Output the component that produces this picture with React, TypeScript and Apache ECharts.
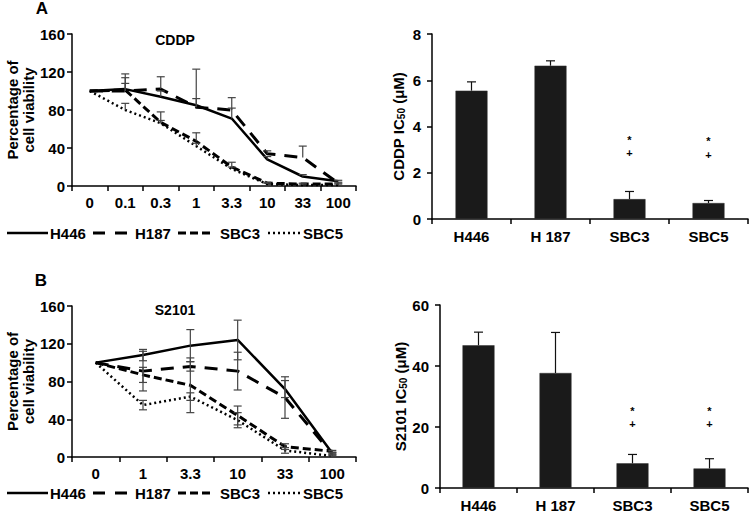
import React, { useEffect, useRef } from "react";
import * as echarts from "echarts";

// ---------- Data ----------
const concA = ["0", "0.1", "0.3", "1", "3.3", "10", "33", "100"];
const aH446 = [100, 102, 94, 85, 71, 28, 10, 5];
const aH187 = [100, 100, 102, 83, 80, 34, 30, 3];
const aSBC3 = [100, 101, 67, 47, 20, 3, 2, 2];
const aSBC5 = [100, 80, 66, 42, 18, 2, 1, 1];
const aH446Err = [0, 6, 6, 38, 22, 3, 2, 1];
const aH187Err = [0, 18, 13, 9, 2, 3, 12, 1];
const aSBC3Err = [0, 13, 11, 9, 5, 1, 1, 1];
const aSBC5Err = [0, 7, 3, 3, 2, 1, 1, 1];

const concB = ["0", "1", "3.3", "10", "33", "100"];
const bH446 = [100, 108, 118, 124, 72, 4];
const bH187 = [100, 91, 96, 91, 63, 3];
const bSBC3 = [100, 87, 76, 44, 11, 6];
const bSBC5 = [100, 55, 64, 39, 7, 1];
const bH446Err = [0, 6, 17, 21, 9, 1];
const bH187Err = [0, 21, 5, 20, 22, 1];
const bSBC3Err = [0, 8, 29, 10, 3, 1];
const bSBC5Err = [0, 5, 4, 8, 3, 1];

const cellLines = ["H446", "H 187", "SBC3", "SBC5"];
const cddpIC50 = [5.55, 6.63, 0.86, 0.69];
const cddpIC50Err = [0.38, 0.21, 0.33, 0.11];
const s2101IC50 = [46.8, 37.7, 8.1, 6.4];
const s2101IC50Err = [4.3, 13.3, 2.9, 3.2];

const cddpStar = [null, null, 3.42, 3.38];
const cddpPlus = [null, null, 2.85, 2.78];
const s2101Star = [null, null, 25.3, 25.3];
const s2101Plus = [null, null, 21.0, 21.0];

const seriesNames = ["H446", "H187", "SBC3", "SBC5"];

// ---------- Styles ----------
const FONT = "'Liberation Sans', Arial, sans-serif";
const dashes: any[] = ["solid", [13, 9], [8, 4], [2, 3]];
const legendDashes: any[] = [null, [12, 10], [8, 4], [2, 3]];
const widths = [2.5, 3, 3, 2.5];
// legend layout: [lineStart, lineEnd, textStart]
const legendSlots = [
  [7, 48, 50],
  [93, 127, 135],
  [178, 212, 220],
  [268, 300, 303],
];

function errRenderer(twoSided: boolean, cap: number, color: string) {
  return (params: any, api: any) => {
    const i = api.value(0);
    const v = api.value(1);
    const e = api.value(2);
    if (!e) return null;
    const top = api.coord([i, v + e]);
    const bot = api.coord([i, twoSided ? v - e : v]);
    const st = { stroke: color, lineWidth: 1.2 };
    const children: any[] = [
      { type: "line", shape: { x1: top[0], y1: top[1], x2: bot[0], y2: bot[1] }, style: st },
      { type: "line", shape: { x1: top[0] - cap / 2, y1: top[1], x2: top[0] + cap / 2, y2: top[1] }, style: st },
    ];
    if (twoSided) {
      children.push({
        type: "line",
        shape: { x1: bot[0] - cap / 2, y1: bot[1], x2: bot[0] + cap / 2, y2: bot[1] },
        style: st,
      });
    }
    return { type: "group", children };
  };
}

function markRenderer(ch: string) {
  return (params: any, api: any) => {
    const p = api.coord([api.value(0), api.value(1)]);
    return {
      type: "text",
      x: p[0],
      y: p[1],
      style: { text: ch, font: `bold 11px ${FONT}`, fill: "#000", align: "center", verticalAlign: "middle" },
    };
  };
}

const toXY = (arr: any[]) =>
  arr.map((v, i) => (v == null ? null : [i, v])).filter((d) => d !== null);
const toErr = (vals: number[], errs: number[]) => vals.map((v, i) => [i, v, errs[i]]);

const axisLine = { show: true, lineStyle: { color: "#000", width: 1.5 } };
const axisTick = { show: true, length: 5, lineStyle: { color: "#000", width: 1.5 } };
const labelStyle = { color: "#000", fontSize: 15, fontWeight: "bold" as const, fontFamily: FONT };

function catAxis(gridIndex: number, data: string[], margin: number) {
  return {
    type: "category",
    gridIndex,
    data,
    boundaryGap: true,
    axisLine,
    axisTick: { ...axisTick, alignWithLabel: false },
    axisLabel: { ...labelStyle, margin, interval: 0 },
    splitLine: { show: false },
  };
}

function valAxis(gridIndex: number, max: number, interval: number, name: string, nameGap: number, margin: number, rich?: any) {
  return {
    type: "value",
    gridIndex,
    min: 0,
    max,
    interval,
    axisLine,
    axisTick,
    axisLabel: { ...labelStyle, margin },
    splitLine: { show: false },
    name,
    nameLocation: "middle",
    nameRotate: 90,
    nameGap,
    nameTextStyle: { ...labelStyle, fontSize: 15, lineHeight: 16, rich },
  };
}

const richIC = {
  a: { fontSize: 15, fontWeight: "bold", fontFamily: FONT, color: "#000" },
  s: { fontSize: 10, fontWeight: "bold", fontFamily: FONT, color: "#000", verticalAlign: "bottom", padding: [6, 0, 0, 0] },
};

function legendGraphics(cy: number) {
  const out: any[] = [];
  seriesNames.forEach((name, k) => {
    const [x1, x2, tx] = legendSlots[k];
    const style: any = { stroke: "#000", lineWidth: widths[k] };
    if (legendDashes[k]) style.lineDash = legendDashes[k];
    out.push({ type: "line", shape: { x1, y1: cy, x2, y2: cy }, style });
    out.push({
      type: "text",
      x: tx,
      y: cy,
      style: { text: name, font: `bold 15px ${FONT}`, fill: "#000", align: "left", verticalAlign: "middle" },
    });
  });
  return out;
}

export default function App() {
  const ref = useRef<HTMLDivElement>(null);
  useEffect(() => {
    if (!ref.current) return;
    const chart = echarts.init(ref.current, undefined, { renderer: "svg" });

    const lineSeries = (xi: number, data: number[][], errData: number[][][], twoSided: boolean) => {
      const s: any[] = [];
      data.forEach((d, k) => {
        s.push({
          type: "line",
          name: seriesNames[k],
          xAxisIndex: xi,
          yAxisIndex: xi,
          data: d,
          symbol: "none",
          lineStyle: { color: "#000", width: widths[k], type: dashes[k] },
          itemStyle: { color: "#000" },
          z: 3,
        });
      });
      errData.forEach((d) => {
        s.push({
          type: "custom",
          xAxisIndex: xi,
          yAxisIndex: xi,
          data: d,
          renderItem: errRenderer(twoSided, 8, "#444"),
          z: 4,
          silent: true,
        });
      });
      return s;
    };

    const barSeries = (xi: number, vals: number[], errs: number[], star: any[], plus: any[]) => [
      {
        type: "bar",
        xAxisIndex: xi,
        yAxisIndex: xi,
        data: vals,
        barWidth: 32,
        itemStyle: { color: "#1a1a1a", borderColor: "#333", borderWidth: 0.5 },
      },
      {
        type: "custom",
        xAxisIndex: xi,
        yAxisIndex: xi,
        data: toErr(vals, errs),
        renderItem: errRenderer(false, 9, "#111"),
        z: 4,
      },
      { type: "custom", xAxisIndex: xi, yAxisIndex: xi, data: toXY(star), renderItem: markRenderer("*"), z: 5 },
      { type: "custom", xAxisIndex: xi, yAxisIndex: xi, data: toXY(plus), renderItem: markRenderer("+"), z: 5 },
    ];

    const option: any = {
      animation: false,
      backgroundColor: "#fff",
      textStyle: { fontFamily: FONT },
      grid: [
        { left: 72, top: 34, width: 284, height: 152 },
        { left: 432, top: 34, width: 316, height: 185 },
        { left: 72, top: 306, width: 284, height: 151 },
        { left: 440, top: 305, width: 308, height: 185 },
      ],
      xAxis: [catAxis(0, concA, 9), catAxis(1, cellLines, 10), catAxis(2, concB, 9), catAxis(3, cellLines, 10)],
      yAxis: [
        valAxis(0, 160, 40, "Percentage of\ncell viability", 36, 7),
        valAxis(1, 8, 2, "{a|CDDP IC}{s|50}{a| (μM)}", 26, 11, richIC),
        valAxis(2, 160, 40, "Percentage of\ncell viability", 36, 7),
        valAxis(3, 60, 20, "{a|S2101 IC}{s|50}{a| (μM)}", 26, 11, richIC),
      ],
      graphic: [
        { type: "text", x: 42, y: 8, style: { text: "A", font: `bold 17px ${FONT}`, fill: "#000", align: "center", verticalAlign: "middle" } },
        { type: "text", x: 41, y: 280, style: { text: "B", font: `bold 17px ${FONT}`, fill: "#000", align: "center", verticalAlign: "middle" } },
        { type: "text", x: 175, y: 40, style: { text: "CDDP", font: `bold 14px ${FONT}`, fill: "#000", align: "center", verticalAlign: "middle" } },
        { type: "text", x: 175, y: 310, style: { text: "S2101", font: `bold 14px ${FONT}`, fill: "#000", align: "center", verticalAlign: "middle" } },
        ...legendGraphics(233),
        ...legendGraphics(493),
      ],
      series: [
        ...lineSeries(0, [aH446, aH187, aSBC3, aSBC5], [
          toErr(aH446, aH446Err),
          toErr(aH187, aH187Err),
          toErr(aSBC3, aSBC3Err),
          toErr(aSBC5, aSBC5Err),
        ], false),
        ...barSeries(1, cddpIC50, cddpIC50Err, cddpStar, cddpPlus),
        ...lineSeries(2, [bH446, bH187, bSBC3, bSBC5], [
          toErr(bH446, bH446Err),
          toErr(bH187, bH187Err),
          toErr(bSBC3, bSBC3Err),
          toErr(bSBC5, bSBC5Err),
        ], true),
        ...barSeries(3, s2101IC50, s2101IC50Err, s2101Star, s2101Plus),
      ],
    };
    chart.setOption(option);
    return () => chart.dispose();
  }, []);
  return (
    <div
      ref={ref}
      style={{ position: "fixed", left: 0, top: 0, width: 750, height: 513, background: "#fff" }}
    />
  );
}
